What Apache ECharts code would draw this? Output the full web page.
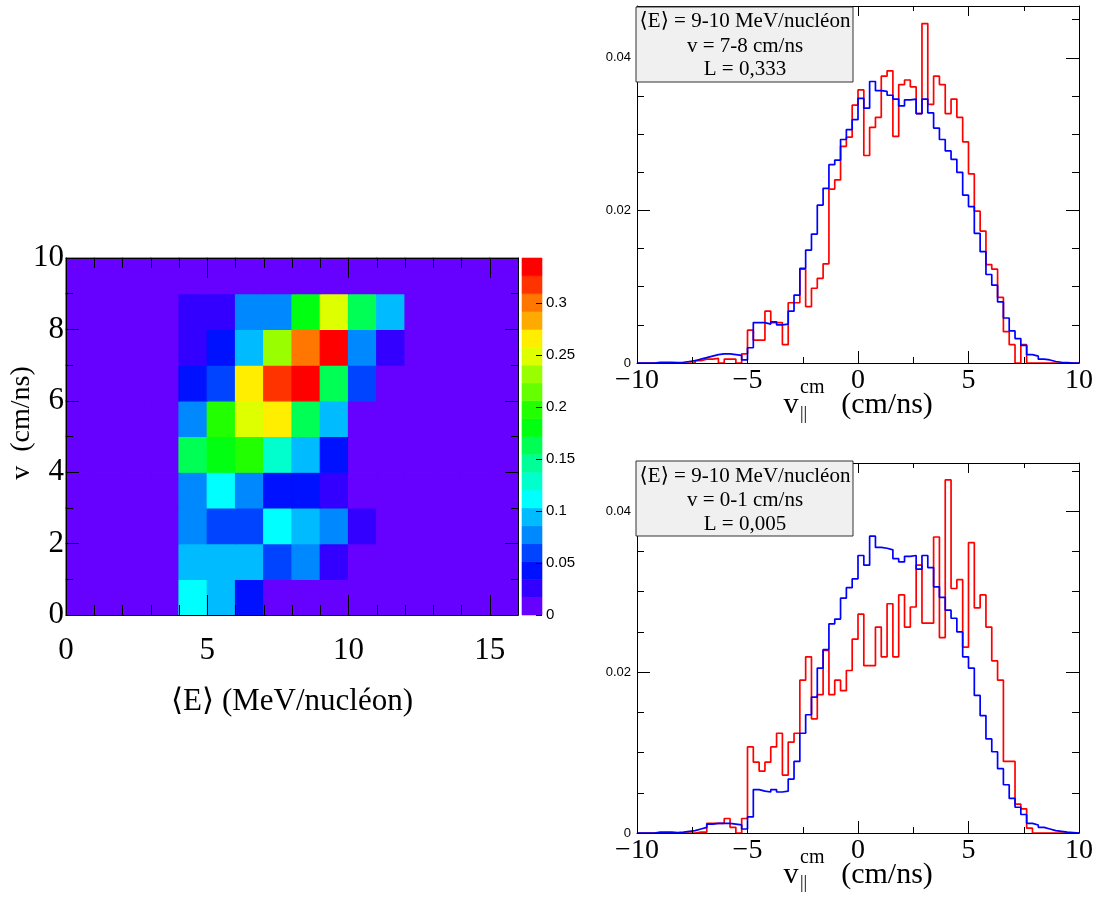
<!DOCTYPE html>
<html><head><meta charset="utf-8">
<script src="https://cdn.jsdelivr.net/npm/echarts@6/dist/echarts.min.js"></script>
<style>html,body{margin:0;padding:0;background:#fff}#c{width:1096px;height:907px}</style>
</head><body><div id="c"></div>
<script>
// ---------- DATA ----------
// Heatmap: rows are v bins 0..9 (bottom to top), columns <E> bins 0..15
const heatRows = [
  [0,0,0,0,0.111,0.094,0.043,0,0,0,0,0,0,0,0,0],
  [0,0,0,0,0.094,0.094,0.094,0.060,0.077,0.026,0,0,0,0,0,0],
  [0,0,0,0,0.077,0.060,0.060,0.111,0.094,0.077,0.026,0,0,0,0,0],
  [0,0,0,0,0.077,0.111,0.077,0.043,0.043,0.026,0,0,0,0,0,0],
  [0,0,0,0,0.163,0.180,0.197,0.128,0.094,0.043,0,0,0,0,0,0],
  [0,0,0,0,0.077,0.197,0.248,0.266,0.163,0.094,0,0,0,0,0,0],
  [0,0,0,0,0.043,0.060,0.266,0.317,0.335,0.163,0.060,0,0,0,0,0],
  [0,0,0,0,0.026,0.043,0.094,0.231,0.300,0.335,0.077,0.026,0,0,0,0],
  [0,0,0,0,0.026,0.026,0.077,0.077,0.180,0.248,0.163,0.094,0,0,0,0],
  [0,0,0,0,0,0,0,0,0,0,0,0,0,0,0,0]
];
const zMax = 0.343;
const palette = ['#6600ff','#3300ff','#0011ff','#0044ff','#0088ff','#00bbff','#00ffff','#00ffcc','#00ff99','#00ff55',
                 '#00ff11','#22ff00','#66ff00','#99ff00','#ddff00','#ffee00','#ffaa00','#ff7700','#ff3300','#ff0000'];

// Histograms: 76 bins from -10 to 10
const histMin = -10, histMax = 10;
const topRed = [0,0,0,0,0,0,0,0,0,0,
  0.0003,0.0005,0.0005,0.0006,0,0.0005,0.0005,0,0.0012,0.0043,
  0.0030,0.0030,0.0068,0.0053,0.0053,0.0024,0.0079,0.0079,0.0123,0.0074,
  0.0098,0.0111,0.0130,0.0228,0.0240,0.0284,0.0296,0.0338,0.0358,0.0272,
  0.0309,0.0322,0.0376,0.0383,0.0297,0.0365,0.0371,0.0362,0.0327,0.0445,
  0.0339,0.0376,0.0365,0.0327,0.0346,0.0322,0.0290,0.0248,0.0199,0.0173,
  0.0129,0.0123,0.0086,0.0041,0.0024,0,0.0024,0,0,0,
  0,0,0,0,0,0];
const topBlue = [0,0,0,0.0001,0.0001,0.0001,0.00005,0.0001,0.0002,0.0003,
  0.0005,0.0007,0.0009,0.0011,0.0012,0.0012,0.0011,0.0010,0.0004,0.0020,
  0.0053,0.0053,0.0051,0.0054,0.0050,0.0051,0.0068,0.0089,0.0124,0.0148,
  0.0169,0.0207,0.0229,0.0260,0.0266,0.0293,0.0306,0.0319,0.0347,0.0334,
  0.0369,0.0357,0.0356,0.0351,0.0346,0.0337,0.0345,0.0346,0.0327,0.0346,
  0.0328,0.0308,0.0293,0.0278,0.0267,0.0250,0.0220,0.0205,0.0170,0.0146,
  0.0116,0.0102,0.0080,0.0059,0.0042,0.0032,0.0023,0.0011,0.0009,0.0005,
  0.0004,0.0002,0.0001,0.00005,0,0];
const botRed = [0,0,0,0,0,0,0,0,0,0,
  0.0001,0.0001,0.0012,0.0012,0.0012,0.0018,0.0007,0,0.0018,0.0107,
  0.0088,0.0077,0.0088,0.0107,0.0124,0.0072,0.0113,0.0124,0.0190,0.0219,
  0.0142,0.0172,0.0227,0.0172,0.0190,0.0177,0.0202,0.0241,0.0272,0.0208,
  0.0208,0.0256,0.0219,0.0285,0.0219,0.0296,0.0256,0.0281,0.0333,0.0261,
  0.0261,0.0368,0.0243,0.0439,0.0304,0.0315,0.0231,0.0361,0.0280,0.0296,
  0.0256,0.0214,0.0190,0.0089,0.0089,0.0036,0.0030,0.0006,0,0,
  0,0,0,0,0,0];
const botBlue = [0,0,0,0.0001,0.0001,0.0001,0.00005,0.0001,0.0002,0.0003,
  0.0005,0.0007,0.0011,0.0012,0.0012,0.0012,0.0011,0.0010,0.0005,0.0020,
  0.0054,0.0052,0.0051,0.0054,0.0051,0.0052,0.0067,0.0089,0.0124,0.0147,
  0.0169,0.0205,0.0228,0.0260,0.0266,0.0292,0.0305,0.0316,0.0345,0.0333,
  0.0369,0.0355,0.0354,0.0352,0.0341,0.0337,0.0344,0.0345,0.0328,0.0345,
  0.0330,0.0306,0.0293,0.0277,0.0267,0.0250,0.0219,0.0205,0.0171,0.0146,
  0.0117,0.0101,0.0080,0.0060,0.0043,0.0032,0.0023,0.0012,0.0010,0.0007,
  0.0005,0.0003,0.0002,0.0001,0.00005,0];
const topYMax = 0.0468, botYMax = 0.046;
const topBox = ['⟨E⟩ = 9-10 MeV/nucléon', 'v = 7-8 cm/ns', 'L = 0,333'];
const botBox = ['⟨E⟩ = 9-10 MeV/nucléon', 'v = 0-1 cm/ns', 'L = 0,005'];
const heatXTitle = '⟨E⟩ (MeV/nucléon)';
const heatYTitle = 'v  (cm/ns)';

// ---------- BUILD ----------
const SERIF = "'Liberation Serif','DejaVu Serif',serif";
const SANS = "'Liberation Sans','DejaVu Sans',sans-serif";
const step = zMax / palette.length;
const heatData = [];
heatRows.forEach((row, y) => row.forEach((v, x) => heatData.push([x, y, v])));
const pieces = palette.map((c, i) => i === palette.length - 1 ? {gte: i*step, color: c} : {gte: i*step, lt: (i+1)*step, color: c});
const barData = palette.map((c, i) => [0, i*step, (i+1)*step]);
function stepData(vals) {
  const w = (histMax - histMin) / vals.length;
  const d = vals.map((v, i) => [histMin + i*w, v]);
  d.push([histMax, vals[vals.length-1]]);
  return d;
}
const minus = v => (v < 0 ? '\u2212' + (-v) : String(v));

function frameAxis(base) { return Object.assign({
  type: 'value', axisLine: {show: true, onZero: false, lineStyle: {color: '#000', width: 1}},
  splitLine: {show: false}, z: 10 }, base); }

const histX = (gi, pos, labels, len, mlen) => frameAxis({
  gridIndex: gi, position: pos, min: histMin, max: histMax, interval: 5,
  axisTick: {show: true, inside: true, length: len, lineStyle: {color: '#000'}},
  minorTick: {show: true, splitNumber: 2, length: mlen, lineStyle: {color: '#000'}},
  axisLabel: {show: labels, formatter: minus, fontFamily: SERIF, fontSize: 28, color: '#000', margin: 4, showMaxLabel: true}
});
const histY = (gi, pos, max, labels) => frameAxis({
  gridIndex: gi, position: pos, min: 0, max: max, interval: 0.02,
  axisTick: {show: true, inside: true, length: 13, lineStyle: {color: '#000'}},
  minorTick: {show: true, splitNumber: 4, length: 7, lineStyle: {color: '#000'}},
  axisLabel: {show: labels, showMaxLabel: false, fontFamily: SANS, fontSize: 13, color: '#000', margin: 6,
    formatter: v => v === 0 ? '0' : v.toFixed(2)}
});

const option = {
  animation: false,
  backgroundColor: '#fff',
  grid: [
    {left: 66, top: 258, width: 452, height: 357},
    {left: 522, top: 258, width: 20, height: 357},
    {left: 637, top: 6, width: 443, height: 357},
    {left: 637, top: 463, width: 443, height: 370}
  ],
  xAxis: [
    frameAxis({gridIndex: 0, position: 'bottom', min: 0, max: 16, interval: 5,
      axisTick: {inside: true, length: 20, lineStyle: {color: '#000'}},
      minorTick: {show: true, splitNumber: 5, length: 10, lineStyle: {color: '#000'}},
      axisLabel: {fontFamily: SERIF, fontSize: 31, color: '#000', margin: 20, showMaxLabel: false}}),
    frameAxis({gridIndex: 0, position: 'top', min: 0, max: 16, interval: 5,
      axisTick: {inside: true, length: 20, lineStyle: {color: '#000'}},
      minorTick: {show: true, splitNumber: 5, length: 10, lineStyle: {color: '#000'}},
      axisLabel: {show: false}}),
    {type: 'value', gridIndex: 1, min: 0, max: 1, show: false},
    histX(2, 'bottom', true, 12, 6), histX(2, 'top', false, 10, 5),
    histX(3, 'bottom', true, 12, 6), histX(3, 'top', false, 10, 5)
  ],
  yAxis: [
    frameAxis({gridIndex: 0, position: 'left', min: 0, max: 10, interval: 2,
      axisTick: {inside: true, length: 13, lineStyle: {color: '#000'}},
      minorTick: {show: true, splitNumber: 2, length: 7, lineStyle: {color: '#000'}},
      axisLabel: {fontFamily: SERIF, fontSize: 31, color: '#000', margin: 2}}),
    frameAxis({gridIndex: 0, position: 'right', min: 0, max: 10, interval: 2,
      axisTick: {inside: true, length: 13, lineStyle: {color: '#000'}},
      minorTick: {show: true, splitNumber: 2, length: 7, lineStyle: {color: '#000'}},
      axisLabel: {show: false}}),
    frameAxis({gridIndex: 1, position: 'right', min: 0, max: zMax, interval: 0.05,
      axisLine: {show: false, onZero: false},
      axisTick: {inside: true, length: 6, lineStyle: {color: '#000'}},
      axisLabel: {fontFamily: SANS, fontSize: 15, color: '#000', margin: 4, showMaxLabel: false,
        formatter: v => v === 0 ? '0' : String(+v.toFixed(2))}}),
    histY(2, 'left', topYMax, true), histY(2, 'right', topYMax, false),
    histY(3, 'left', botYMax, true), histY(3, 'right', botYMax, false)
  ],
  visualMap: {type: 'piecewise', show: false, dimension: 2, seriesIndex: 0, pieces: pieces},
  series: [
    {type: 'custom', xAxisIndex: 0, yAxisIndex: 0, data: heatData, encode: {x: 0, y: 1},
      renderItem: (params, api) => {
        const x0 = api.value(0), y0 = api.value(1);
        const p1 = api.coord([x0, y0 + 1]), p2 = api.coord([x0 + 1, y0]);
        const c = api.visual('color');
        return {type: 'rect', shape: {x: p1[0], y: p1[1], width: p2[0]-p1[0], height: p2[1]-p1[1]},
          style: {fill: c, stroke: c, lineWidth: 1.2}};
      }},
    {type: 'custom', xAxisIndex: 2, yAxisIndex: 2, data: barData, encode: {x: 0, y: [1, 2]},
      renderItem: (params, api) => {
        const p1 = api.coord([0, api.value(2)]), p2 = api.coord([1, api.value(1)]);
        const c = palette[params.dataIndex];
        return {type: 'rect', shape: {x: p1[0], y: p1[1], width: p2[0]-p1[0], height: p2[1]-p1[1]},
          style: {fill: c, stroke: c, lineWidth: 0.6}};
      }},
    {type: 'line', xAxisIndex: 3, yAxisIndex: 3, step: 'end', data: stepData(topRed), symbol: 'none',
      lineStyle: {color: '#ff0000', width: 1.7}, z: 3},
    {type: 'line', xAxisIndex: 3, yAxisIndex: 3, step: 'end', data: stepData(topBlue), symbol: 'none',
      lineStyle: {color: '#0000ff', width: 1.7}, z: 4},
    {type: 'line', xAxisIndex: 5, yAxisIndex: 5, step: 'end', data: stepData(botRed), symbol: 'none',
      lineStyle: {color: '#ff0000', width: 1.7}, z: 3},
    {type: 'line', xAxisIndex: 5, yAxisIndex: 5, step: 'end', data: stepData(botBlue), symbol: 'none',
      lineStyle: {color: '#0000ff', width: 1.7}, z: 4}
  ],
  graphic: []
};

const G = option.graphic;
const txt = (x, y, s, size, opts) => G.push(Object.assign({type: 'text', x: x, y: y, z: 120,
  style: Object.assign({text: s, font: size + 'px ' + SERIF, fill: '#000', align: 'center', verticalAlign: 'middle'}, opts || {})}));
// text boxes
[[7, topBox, [21, 46, 69]], [461, botBox, [476, 500, 524]]].forEach(([top, lines, ys]) => {
  G.push({type: 'rect', z: 110, shape: {x: 636, y: top, width: 217, height: 75},
    style: {fill: '#f0f0f0', stroke: '#333', lineWidth: 1}});
  lines.forEach((s, i) => txt(745, ys[i], s, 21));
});
// heatmap titles
txt(292, 702, heatXTitle, 31);
G.push({type: 'text', x: 22, y: 423, rotation: Math.PI / 2, z: 120,
  style: {text: heatYTitle, font: '28px ' + SERIF, fill: '#000', align: 'center', verticalAlign: 'middle'}});
// histogram axis titles (v with || subscript and cm superscript)
[0, 469.4].forEach(dy => {
  txt(791, 405.6 + dy, 'v', 30);
  txt(800, 388 + dy, 'cm', 20, {align: 'left'});
  txt(800, 414 + dy, '||', 18, {align: 'left'});
  txt(887, 405.6 + dy, '(cm/ns)', 30);
});

const chart = echarts.init(document.getElementById('c'), null, {renderer: 'canvas'});
chart.setOption(option);
</script>
</body></html>
